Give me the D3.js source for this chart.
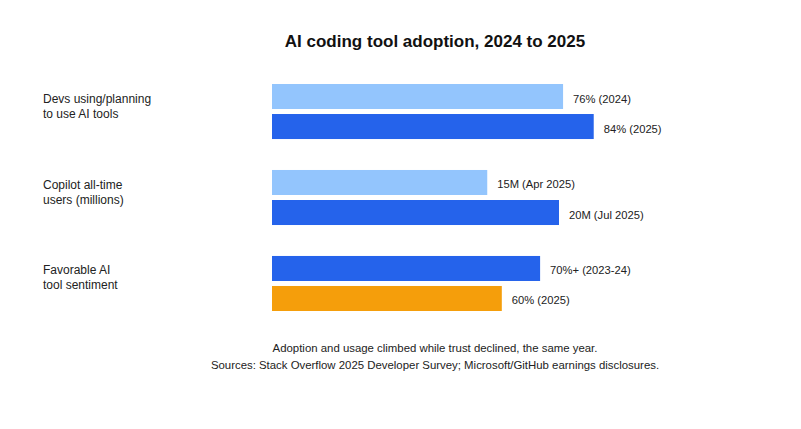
<!DOCTYPE html>
<html>
<head>
<meta charset="utf-8">
<script src="https://cdn.jsdelivr.net/npm/d3@7"></script>
<style>
	body { margin: 0; background: #fff; }
	svg { font-family: "Liberation Sans", Arial, sans-serif; }
</style>
</head>
<body>
<svg width="801" height="429"></svg>
<script>
// groups, top to bottom
var categories = ["devs", "copilot", "sentiment"];
var categoryLines = [
	["Devs using/planning", "to use AI tools"],
	["Copilot all-time", "users (millions)"],
	["Favorable AI", "tool sentiment"]
];
// two bars per group
var firstValues = [76, 15, 70];
var secondValues = [84, 20, 60];
var firstLabels = ["76% (2024)", "15M (Apr 2025)", "70%+ (2023-24)"];
var secondLabels = ["84% (2025)", "20M (Jul 2025)", "60% (2025)"];
var units = ["pct", "mil", "pct"];
var firstColors = ["#93c5fd", "#93c5fd", "#2563eb"];
var secondColors = ["#2563eb", "#2563eb", "#f59e0b"];

var svg = d3.select("svg");

// percent scale and a separate one for the millions group
var xPct = d3.scaleLinear().domain([0, 100]).range([272, 655]);
var xMil = d3.scaleLinear().domain([0, 20]).range([272, 559]);
function xFor(unit) { return unit == "mil" ? xMil : xPct; }

var yGroup = d3.scaleBand().domain(categories).range([84, 311]).paddingInner(0.36);
var yInner = d3.scaleBand().domain([0, 1]).range([0, yGroup.bandwidth()]).paddingInner(0.1667);

var rows = [];
categories.forEach(function (c, i) {
	rows.push({ cat: c, k: 0, value: firstValues[i], label: firstLabels[i], color: firstColors[i], unit: units[i] });
	rows.push({ cat: c, k: 1, value: secondValues[i], label: secondLabels[i], color: secondColors[i], unit: units[i] });
});

svg.append("text")
	.attr("x", 435)
	.attr("y", 47)
	.attr("text-anchor", "middle")
	.attr("font-size", 17)
	.attr("font-weight", "bold")
	.attr("fill", "#111")
	.text("AI coding tool adoption, 2024 to 2025");

svg.selectAll(".bar")
	.data(rows)
	.enter()
	.append("rect")
	.attr("class", "bar")
	.attr("x", function (d) { return xFor(d.unit)(0); })
	.attr("y", function (d) { return yGroup(d.cat) + yInner(d.k); })
	.attr("width", function (d) { return xFor(d.unit)(d.value) - xFor(d.unit)(0); })
	.attr("height", yInner.bandwidth())
	.attr("fill", function (d) { return d.color; });

svg.selectAll(".val")
	.data(rows)
	.enter()
	.append("text")
	.attr("class", "val")
	.attr("x", function (d) { return xFor(d.unit)(d.value) + 10; })
	.attr("y", function (d) { return yGroup(d.cat) + yInner(d.k) + yInner.bandwidth() / 2 + 6; })
	.attr("font-size", 11.2)
	.attr("fill", "#222")
	.text(function (d) { return d.label; });

var cats = svg.selectAll(".cat")
	.data(categories)
	.enter()
	.append("text")
	.attr("class", "cat")
	.attr("font-size", 12)
	.attr("fill", "#222");
cats.each(function (c, i) {
	var mid = yGroup(c) + yGroup.bandwidth() / 2;
	d3.select(this).selectAll("tspan")
		.data(categoryLines[i])
		.enter()
		.append("tspan")
		.attr("x", 43)
		.attr("y", function (t, j) { return mid - 9 + j * 15; })
		.text(function (t) { return t; });
});

var notes = [
	"Adoption and usage climbed while trust declined, the same year.",
	"Sources: Stack Overflow 2025 Developer Survey; Microsoft/GitHub earnings disclosures."
];
svg.selectAll(".note")
	.data(notes)
	.enter()
	.append("text")
	.attr("class", "note")
	.attr("x", 435)
	.attr("y", function (d, i) { return 352 + i * 17; })
	.attr("text-anchor", "middle")
	.attr("font-size", 11.4)
	.attr("fill", "#222")
	.text(function (d) { return d; });
</script>
</body>
</html>
